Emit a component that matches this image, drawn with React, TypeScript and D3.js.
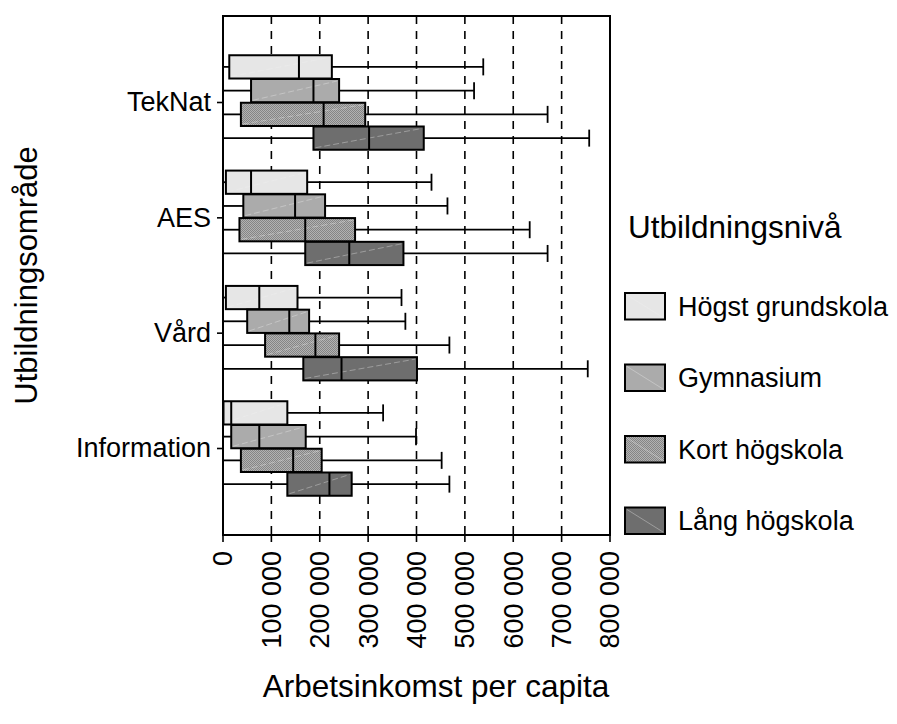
import React from "react";
import * as d3 from "d3";

// categories top to bottom, education levels in dodge order
const categories = ["TekNat", "AES", "Vård", "Information"];
const levels = ["Högst grundskola", "Gymnasium", "Kort högskola", "Lång högskola"];
const xTicks = [0, 100000, 200000, 300000, 400000, 500000, 600000, 700000, 800000];

// box stats per level, in category order (TekNat, AES, Vård, Information)
const minAll = [0, 0, 0, 0];
const hogstQ1 = [13000, 6000, 6000, 1000];
const hogstMed = [157000, 58000, 75000, 17000];
const hogstQ3 = [225000, 174000, 154000, 133000];
const hogstMax = [538000, 431000, 369000, 331000];

const gymQ1 = [58000, 42000, 50000, 17000];
const gymMed = [187000, 149000, 137000, 75000];
const gymQ3 = [240000, 211000, 178000, 171000];
const gymMax = [519000, 464000, 377000, 399000];

const kortQ1 = [37000, 34000, 87000, 37000];
const kortMed = [208000, 170000, 191000, 145000];
const kortQ3 = [294000, 273000, 240000, 204000];
const kortMax = [671000, 634000, 468000, 452000];

const langQ1 = [187000, 170000, 166000, 133000];
const langMed = [302000, 261000, 245000, 220000];
const langQ3 = [415000, 373000, 401000, 266000];
const langMax = [757000, 671000, 754000, 468000];

const levelStats = [
  [hogstQ1, hogstMed, hogstQ3, hogstMax],
  [gymQ1, gymMed, gymQ3, gymMax],
  [kortQ1, kortMed, kortQ3, kortMax],
  [langQ1, langMed, langQ3, langMax],
];

const fills = ["#e6e6e6", "#ababab", "url(#kortPattern)", "#6e6e6e"];

const width = 897;
const height = 724;
const panel = { left: 223, right: 610, top: 16, bottom: 535 };
const font = "'Liberation Sans', Arial, sans-serif";

const fmt = (v: number) => d3.format(",")(v).replace(/,/g, " ");

const App = () => {
  const x = d3.scaleLinear().domain([0, 800000]).range([panel.left, panel.right]);

  const y = d3
    .scaleBand()
    .domain(categories)
    .range([panel.top, panel.bottom])
    .paddingInner(0)
    .paddingOuter(0.25);

  const dodgeWidth = 95;
  const inner = d3
    .scaleBand()
    .domain(levels)
    .range([(y.bandwidth() - dodgeWidth) / 2, (y.bandwidth() + dodgeWidth) / 2]);

  const boxH = inner.bandwidth() - 0.5;
  const capH = 17;

  const boxes = levels.flatMap((lvl, li) =>
    categories.map((cat, ci) => ({
      lvl,
      li,
      cat,
      min: minAll[ci],
      q1: levelStats[li][0][ci],
      med: levelStats[li][1][ci],
      q3: levelStats[li][2][ci],
      max: levelStats[li][3][ci],
      cy: (y(cat) as number) + (inner(lvl) as number) + inner.bandwidth() / 2,
    }))
  );

  const legendX = 625;
  const legendY0 = 293;
  const legendStep = 71.5;

  return (
    <svg
      width={width}
      height={height}
      style={{ position: "absolute", left: 0, top: 0, background: "#fff" }}
      fontFamily={font}
    >
      <defs>
        <pattern id="kortPattern" width={2} height={2} patternUnits="userSpaceOnUse">
          <rect width={2} height={2} fill="#b2b2b2" />
          <rect width={1} height={1} fill="#858585" />
          <rect x={1} y={1} width={1} height={1} fill="#858585" />
        </pattern>
      </defs>

      {/* dashed grid */}
      {xTicks.slice(1, -1).map((t) => (
        <line
          key={t}
          x1={x(t)}
          x2={x(t)}
          y1={panel.top}
          y2={panel.bottom}
          stroke="#000"
          strokeWidth={1.6}
          strokeDasharray="8 7"
        />
      ))}

      {/* boxes */}
      {boxes.map((b, i) => (
        <g key={i}>
          <line x1={x(b.min)} x2={x(b.q1)} y1={b.cy} y2={b.cy} stroke="#000" strokeWidth={1.8} />
          <line x1={x(b.q3)} x2={x(b.max)} y1={b.cy} y2={b.cy} stroke="#000" strokeWidth={1.8} />
          <line
            x1={x(b.max)}
            x2={x(b.max)}
            y1={b.cy - capH / 2}
            y2={b.cy + capH / 2}
            stroke="#000"
            strokeWidth={1.8}
          />
          <rect
            x={x(b.q1)}
            y={b.cy - boxH / 2}
            width={x(b.q3) - x(b.q1)}
            height={boxH}
            fill={fills[b.li]}
            stroke="#000"
            strokeWidth={2}
          />
          <line
            x1={x(b.q1) + 2}
            y1={b.cy + boxH / 2 - 2}
            x2={x(b.q3) - 2}
            y2={b.cy - boxH / 2 + 2}
            stroke="#f2f2f2"
            strokeOpacity={0.45}
            strokeWidth={0.8}
            strokeDasharray="6 3"
          />
          <line
            x1={x(b.med)}
            x2={x(b.med)}
            y1={b.cy - boxH / 2}
            y2={b.cy + boxH / 2}
            stroke="#000"
            strokeWidth={2}
          />
        </g>
      ))}

      {/* panel border */}
      <rect
        x={panel.left}
        y={panel.top}
        width={panel.right - panel.left}
        height={panel.bottom - panel.top}
        fill="none"
        stroke="#000"
        strokeWidth={2}
      />

      {/* y axis */}
      {categories.map((c) => {
        const cy = (y(c) as number) + y.bandwidth() / 2;
        return (
          <g key={c}>
            <line x1={panel.left - 6} x2={panel.left} y1={cy} y2={cy} stroke="#000" strokeWidth={1.6} />
            <text x={panel.left - 12} y={cy} dy="0.33em" textAnchor="end" fontSize={27} fill="#000">
              {c}
            </text>
          </g>
        );
      })}

      {/* x axis */}
      {xTicks.map((t) => (
        <g key={t}>
          <line x1={x(t)} x2={x(t)} y1={panel.bottom} y2={panel.bottom + 7} stroke="#000" strokeWidth={1.6} />
          <text
            transform={`translate(${x(t)},${panel.bottom + 16}) rotate(-90)`}
            dy="0.35em"
            textAnchor="end"
            fontSize={27}
            fill="#000"
          >
            {fmt(t)}
          </text>
        </g>
      ))}

      <text x={436} y={697} textAnchor="middle" fontSize={31.5} fill="#000">
        Arbetsinkomst per capita
      </text>
      <text
        transform={`translate(37,${(panel.top + panel.bottom) / 2}) rotate(-90)`}
        textAnchor="middle"
        fontSize={31}
        fill="#000"
      >
        Utbildningsområde
      </text>

      {/* legend */}
      <text x={628} y={238} fontSize={31.5} fill="#000">
        Utbildningsnivå
      </text>
      {levels.map((l, i) => {
        const ky = legendY0 + i * legendStep;
        return (
          <g key={l}>
            <rect x={legendX} y={ky} width={40} height={26.5} fill={fills[i]} stroke="#000" strokeWidth={2} />
            <line
              x1={legendX + 2}
              y1={ky + 2}
              x2={legendX + 38}
              y2={ky + 24.5}
              stroke="#f2f2f2"
              strokeOpacity={0.45}
              strokeWidth={0.8}
            />
            <text x={678} y={ky + 13.25} dy="0.35em" fontSize={27} fill="#000">
              {l}
            </text>
          </g>
        );
      })}
    </svg>
  );
};

export default App;
